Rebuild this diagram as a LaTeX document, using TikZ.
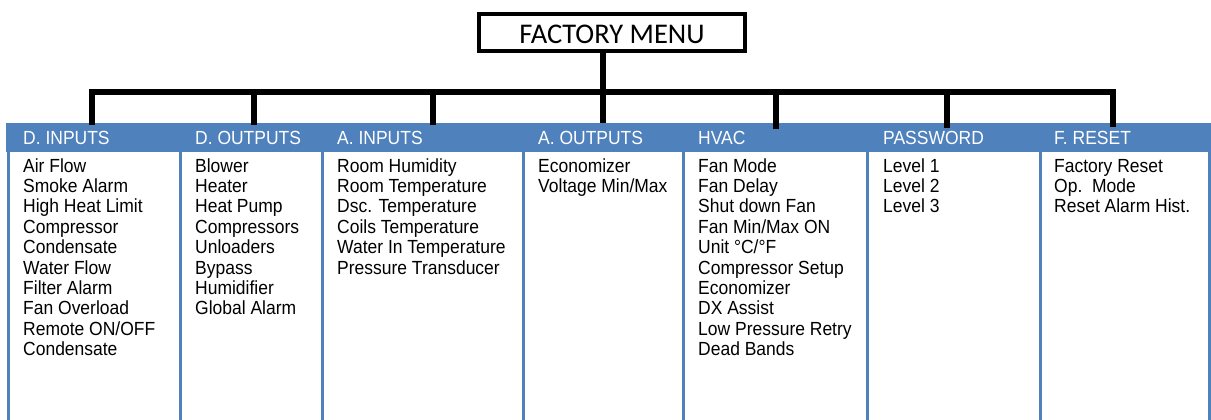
\documentclass[tikz,border=0pt]{standalone}
\usepackage{fontspec}
\setmainfont[FakeStretch=0.92]{Liberation Sans}
\newfontfamily\boxfont{Carlito}
\definecolor{hdrblue}{HTML}{4F81BD}
\begin{document}
\begin{tikzpicture}[x=1pt,y=-1pt,
  menubox/.style={draw=black,line width=4pt,minimum width=266pt,minimum height=37pt,inner sep=0pt,
    font=\boxfont\fontsize{28.5}{30}\selectfont,text height=22.5pt,text depth=0pt},
  bus/.style={line width=6pt,line join=miter,line cap=butt},
  hdr/.style={anchor=base west,inner sep=0pt,text=white,font=\fontsize{19}{20}\selectfont},
  item/.style={anchor=base west,inner sep=0pt,text=black,font=\fontsize{19}{20}\selectfont},
  colline/.style={draw=hdrblue,line width=3pt}]
\useasboundingbox (0,0) rectangle (1211,420);
% header bar
\fill[hdrblue] (6,123) rectangle (1211,152);
\foreach \x in {8,180,322,523,683,867,1040,1209}
  \draw[colline] (\x,151) -- (\x,420);
% headers
\node[hdr] (h1) at (23,144) {D. INPUTS};
\node[hdr] (h2) at (195,144) {D. OUTPUTS};
\node[hdr] (h3) at (337,144) {A. INPUTS};
\node[hdr] (h4) at (538,144) {A. OUTPUTS};
\node[hdr] (h5) at (698,144) {HVAC};
\node[hdr] (h6) at (883,144) {PASSWORD};
\node[hdr] (h7) at (1054,144) {F. RESET};
% items
\foreach \t [count=\i] in {Air Flow,Smoke Alarm,High Heat Limit,Compressor,Condensate,Water Flow,Filter Alarm,Fan Overload,Remote ON/OFF,Condensate}
  \node[item] (a\i) at (23,{172+20.4*(\i-1)}) {\t};
\foreach \t [count=\i] in {Blower,Heater,Heat Pump,Compressors,Unloaders,Bypass,Humidifier,Global Alarm}
  \node[item] (b\i) at (195,{172+20.4*(\i-1)}) {\t};
\foreach \t [count=\i] in {Room Humidity,Room Temperature,Dsc. Temperature,Coils Temperature,Water In Temperature,Pressure Transducer}
  \node[item] (c\i) at (337,{172+20.4*(\i-1)}) {\t};
\foreach \t [count=\i] in {Economizer,Voltage Min/Max}
  \node[item] (e\i) at (538,{172+20.4*(\i-1)}) {\t};
\foreach \t [count=\i] in {Fan Mode,Fan Delay,Shut down Fan,Fan Min/Max ON,Unit °C/°F,Compressor Setup,Economizer,DX Assist,Low Pressure Retry,Dead Bands}
  \node[item] (f\i) at (698,{172+20.4*(\i-1)}) {\t};
\foreach \t [count=\i] in {Level 1,Level 2,Level 3}
  \node[item] (g\i) at (883,{172+20.4*(\i-1)}) {\t};
\foreach \t [count=\i] in {Factory Reset,Op.~~Mode,Reset Alarm Hist.}
  \node[item] (k\i) at (1054,{172+20.4*(\i-1)}) {\t};
% top box
\node[menubox] (menu) at (612,32.5) {FACTORY MENU};
% bus
\coordinate (j) at (603,92);
\coordinate (d1) at (92,125);
\coordinate (d2) at (254,125);
\coordinate (d3) at (433,125);
\coordinate (d4) at (603,123);
\coordinate (d5) at (776,129);
\coordinate (d6) at (947,128);
\coordinate (d7) at (1113,127);
\draw[bus] ([xshift=-9pt]menu.south) -- (d4);
\foreach \d in {d1,d2,d3,d5,d6,d7}
  \draw[bus] (j) -| (\d);
\end{tikzpicture}
\end{document}
